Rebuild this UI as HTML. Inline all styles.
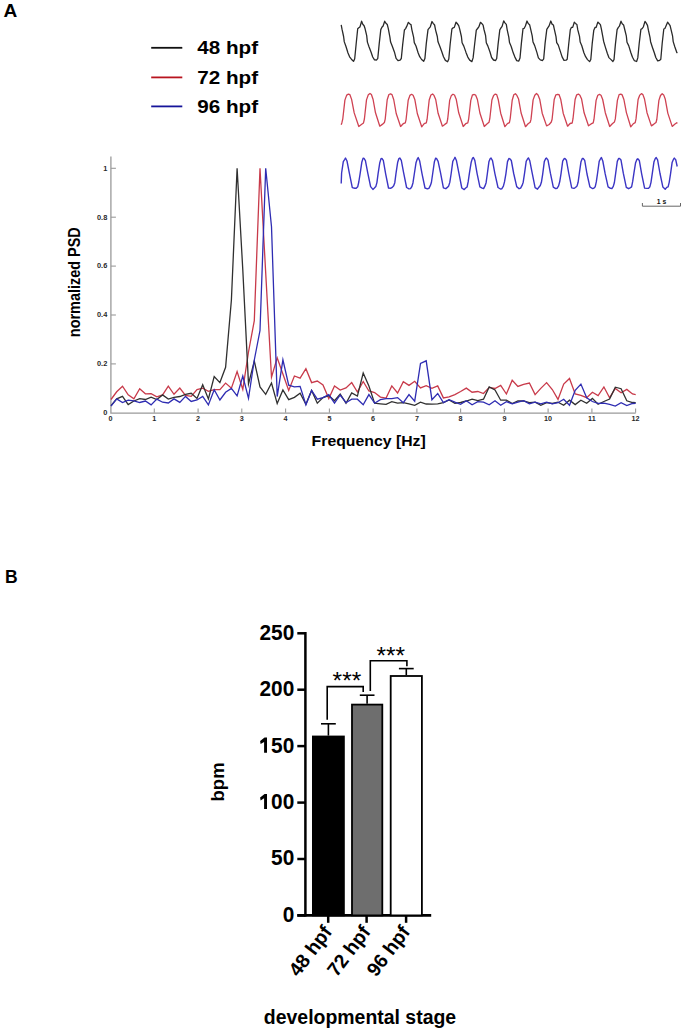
<!DOCTYPE html>
<html><head><meta charset="utf-8"><title>figure</title>
<style>
html,body{margin:0;padding:0;background:#fff;}
body{width:685px;height:1032px;overflow:hidden;font-family:"Liberation Sans", sans-serif;}
svg{display:block;}
</style></head>
<body>
<svg width="685" height="1032" viewBox="0 0 685 1032">
<rect width="685" height="1032" fill="#fff"/>
<text x="3.5" y="17.3" font-size="18" font-family="Liberation Sans, sans-serif" font-weight="bold" fill="#000" transform="translate(3.5 0) scale(1.06 1) translate(-3.5 0)">A</text>
<text x="5.0" y="583.2" font-size="17.5" font-family="Liberation Sans, sans-serif" font-weight="bold" fill="#000">B</text>
<line x1="151.2" y1="47.8" x2="182.3" y2="47.8" stroke="#111" stroke-width="1.8"/>
<line x1="151.2" y1="77.4" x2="182.3" y2="77.4" stroke="#b8141f" stroke-width="1.8"/>
<line x1="151.2" y1="106.4" x2="182.3" y2="106.4" stroke="#16149a" stroke-width="1.8"/>
<text x="197.2" y="53.7" font-size="18.3" font-family="Liberation Sans, sans-serif" font-weight="bold" fill="#000" transform="translate(197.2 0) scale(1.13 1) translate(-197.2 0)">48 hpf</text>
<text x="197.2" y="83.9" font-size="18.3" font-family="Liberation Sans, sans-serif" font-weight="bold" fill="#000" transform="translate(197.2 0) scale(1.13 1) translate(-197.2 0)">72 hpf</text>
<text x="197.2" y="113.4" font-size="18.3" font-family="Liberation Sans, sans-serif" font-weight="bold" fill="#000" transform="translate(197.2 0) scale(1.13 1) translate(-197.2 0)">96 hpf</text>
<polyline points="341.2,24.8 342.0,29.2 343.6,36.5 344.3,41.9 345.9,46.3 348.0,53.0 349.6,56.8 351.4,59.2 353.5,61.4 354.7,58.7 356.1,44.5 357.7,28.7 358.8,27.7 360.0,26.9 361.6,21.2 362.8,24.2 364.1,25.7 365.1,28.8 366.7,35.6 367.4,42.1 369.0,46.8 371.1,52.3 372.7,57.0 374.5,59.9 376.6,60.0 377.8,58.3 379.2,43.9 380.8,29.6 381.9,27.3 383.1,26.0 384.7,21.2 385.9,23.3 387.3,24.6 388.3,28.7 389.9,37.1 390.6,42.1 392.3,46.3 394.4,51.9 396.1,58.4 398.0,60.6 400.1,60.1 401.3,58.5 402.7,44.4 404.4,30.0 405.6,28.6 406.7,26.4 408.4,22.3 409.6,23.7 411.0,24.6 411.9,29.8 413.6,37.2 414.3,42.6 416.0,46.0 418.1,52.7 419.7,56.7 421.6,59.5 423.7,61.3 424.9,58.6 426.3,43.4 428.0,29.7 429.2,28.2 430.3,26.8 432.0,21.5 433.2,23.3 434.6,25.0 435.6,30.1 437.3,36.5 438.0,41.8 439.7,46.0 441.8,51.7 443.5,56.7 445.4,60.4 447.6,61.7 448.8,59.0 450.2,43.8 451.9,29.0 453.1,27.8 454.3,27.4 456.0,22.2 457.2,23.5 458.7,25.6 459.7,29.1 461.4,36.5 462.1,42.8 463.8,46.1 466.0,52.4 467.8,57.1 469.7,60.1 471.9,61.6 473.1,57.9 474.6,44.5 476.3,30.2 477.6,28.5 478.8,26.9 480.5,22.3 481.7,23.4 483.1,25.1 484.0,29.5 485.6,35.7 486.3,42.7 487.9,46.1 490.0,52.0 491.6,57.5 493.5,60.0 495.6,60.5 496.7,58.5 498.1,44.1 499.8,29.8 500.9,28.0 502.1,26.4 503.7,20.9 504.9,22.9 506.3,24.4 507.2,29.8 508.8,37.1 509.5,42.5 511.2,46.5 513.3,53.1 514.9,57.1 516.7,60.6 518.8,61.1 520.0,58.0 521.4,43.1 523.0,28.7 524.2,28.3 525.4,26.0 527.0,21.0 528.2,23.6 529.6,24.7 530.6,28.8 532.2,35.9 533.0,42.0 534.6,45.4 536.8,52.1 538.4,57.9 540.3,59.9 542.5,60.5 543.7,58.8 545.1,43.1 546.8,29.4 547.9,27.7 549.1,25.9 550.8,21.0 552.0,24.1 553.4,25.0 554.3,29.1 556.0,36.7 556.7,42.6 558.3,45.1 560.4,51.6 562.1,56.9 564.0,60.4 566.1,60.2 567.2,59.2 568.7,44.3 570.3,29.7 571.5,27.3 572.7,27.4 574.3,22.2 575.5,23.4 576.9,24.5 577.8,29.9 579.5,36.3 580.2,42.1 581.8,45.7 583.9,52.7 585.6,56.7 587.5,59.6 589.6,61.6 590.8,59.5 592.2,43.7 593.8,30.2 595.0,27.5 596.2,27.3 597.8,22.1 599.0,23.2 600.4,24.6 601.3,28.7 602.9,37.2 603.6,41.2 605.2,46.6 607.3,53.3 608.9,57.6 610.8,59.4 612.9,61.5 614.0,59.7 615.4,44.4 617.1,29.6 618.2,27.6 619.4,26.2 621.0,21.2 622.2,23.7 623.6,24.9 624.6,29.0 626.3,35.8 627.0,42.3 628.7,45.6 630.8,52.5 632.5,57.2 634.4,60.7 636.6,61.5 637.8,57.9 639.2,43.5 640.9,29.3 642.1,28.7 643.3,27.0 645.0,21.4 646.1,22.9 647.5,25.3 648.4,30.2 650.0,37.3 650.6,41.7 652.2,46.7 654.3,52.8 655.8,57.5 657.7,60.9 659.7,60.3 660.8,59.2 662.2,43.3 663.8,29.0 664.9,28.5 666.0,26.0 667.6,22.2 668.7,23.6 670.1,25.6 671.0,29.4 672.6,36.2 673.2,41.6 674.8,46.7 676.9,52.7 677.2,52.0" fill="none" stroke="#2a2a2a" stroke-width="1.3" stroke-linejoin="round"/>
<polyline points="341.2,124.8 341.9,122.7 342.8,118.8 344.9,100.1 346.7,95.1 348.4,94.1 349.9,94.7 351.6,99.4 354.2,112.9 358.8,126.5 361.4,124.5 363.5,122.9 364.4,119.0 366.5,99.9 368.3,94.8 370.0,93.5 371.4,94.5 373.1,99.5 375.5,112.8 379.8,126.2 382.3,124.4 384.4,122.5 385.2,119.1 387.2,99.7 388.9,94.5 390.5,93.8 392.0,94.6 393.7,99.5 396.2,113.5 400.6,126.5 403.2,123.7 405.3,122.9 406.1,119.3 408.2,100.2 409.9,95.4 411.6,94.3 413.1,95.3 414.8,99.4 417.3,113.5 421.7,126.8 424.2,123.7 426.3,122.8 427.1,119.2 429.2,100.0 430.9,95.0 432.6,94.0 434.0,95.4 435.7,99.5 438.1,113.3 442.4,126.2 444.8,124.4 446.9,122.9 447.7,119.0 449.7,100.1 451.4,95.4 453.0,94.2 454.5,95.0 456.2,99.2 458.7,112.8 463.2,126.5 465.7,123.7 467.8,122.9 468.7,118.8 470.8,100.4 472.5,94.8 474.2,94.5 475.7,95.2 477.4,99.5 479.9,113.0 484.3,126.5 486.9,124.1 489.0,122.3 489.8,118.7 491.9,100.0 493.6,95.4 495.3,94.1 496.7,94.6 498.3,99.8 500.7,113.2 504.9,126.7 507.4,123.7 509.4,122.7 510.2,118.6 512.2,100.2 513.8,94.8 515.4,93.7 516.9,95.4 518.6,99.1 521.1,113.0 525.5,126.7 528.1,123.7 530.2,122.2 531.0,119.4 533.1,99.9 534.8,95.2 536.5,93.5 538.0,94.9 539.7,99.2 542.2,113.2 546.6,125.9 549.2,124.5 551.3,122.0 552.1,119.2 554.2,99.5 555.9,94.8 557.6,94.3 559.1,94.7 560.7,99.2 563.2,113.2 567.6,126.2 570.1,123.5 572.2,123.0 573.0,118.7 575.1,99.5 576.7,94.8 578.4,94.1 579.9,95.2 581.6,99.1 584.1,112.8 588.5,125.8 591.1,123.9 593.2,122.8 594.0,119.2 596.1,100.4 597.8,95.3 599.5,94.4 601.0,95.2 602.7,99.5 605.3,112.7 609.7,126.5 612.3,123.8 614.4,122.1 615.3,118.9 617.4,100.4 619.1,94.6 620.8,94.1 622.2,94.9 623.9,99.5 626.4,112.6 630.7,126.8 633.2,123.8 635.2,122.6 636.0,118.9 638.1,99.5 639.8,95.1 641.4,93.6 642.9,94.6 644.5,99.0 647.0,112.7 651.4,125.9 653.9,124.1 656.0,122.5 656.8,119.5 658.9,100.4 660.5,95.5 662.2,93.7 663.7,94.9 665.3,99.3 667.8,113.1 672.2,126.4 674.7,124.3 676.8,122.7 677.2,123.5" fill="none" stroke="#cf4252" stroke-width="1.3" stroke-linejoin="round"/>
<polyline points="341.2,183.5 341.6,173.0 343.3,161.6 344.6,159.6 345.5,158.0 347.0,161.0 349.4,173.4 352.3,187.6 354.8,188.2 356.2,188.2 357.7,186.8 358.8,182.0 360.1,173.8 361.8,162.3 363.1,158.1 364.0,158.4 365.4,160.6 367.8,173.1 370.6,186.6 372.9,189.4 374.4,188.0 375.8,186.6 376.9,182.6 378.1,173.7 379.8,162.7 381.0,158.6 381.9,158.5 383.3,160.4 385.7,174.1 388.5,188.0 390.9,188.2 392.3,187.4 393.7,185.7 394.8,182.7 396.0,173.3 397.7,162.2 398.9,158.5 399.8,158.0 401.3,160.3 403.7,173.2 406.6,187.5 409.0,188.9 410.5,188.6 411.9,186.5 413.0,182.7 414.3,174.0 416.0,162.8 417.3,159.1 418.2,157.5 419.7,161.1 422.1,174.1 425.0,188.0 427.4,188.9 428.9,188.3 430.3,185.7 431.4,182.5 432.7,173.5 434.4,161.7 435.7,158.1 436.6,158.6 438.1,161.3 440.5,172.7 443.4,187.9 445.8,188.7 447.3,187.4 448.7,185.9 449.8,182.4 451.1,174.0 452.8,161.3 454.1,159.0 455.0,157.3 456.5,160.8 458.9,173.1 461.8,188.0 464.2,189.6 465.7,188.0 467.1,187.0 468.2,181.7 469.5,172.7 471.2,162.2 472.5,158.1 473.4,157.5 474.8,160.4 477.1,173.6 479.9,186.8 482.2,188.1 483.6,188.6 485.0,185.9 486.1,182.7 487.3,174.0 488.9,161.8 490.1,158.7 491.0,158.0 492.5,160.7 494.9,173.6 498.0,187.5 500.4,189.0 501.9,188.7 503.4,186.2 504.5,181.9 505.9,173.8 507.5,161.6 508.9,158.5 509.8,158.8 511.3,160.5 513.7,173.5 516.7,186.6 519.1,188.7 520.6,188.1 522.1,185.4 523.2,182.2 524.5,173.6 526.2,161.3 527.5,159.0 528.4,157.9 529.8,160.8 532.2,173.2 535.1,187.7 537.5,189.2 538.9,187.2 540.3,185.5 541.4,182.3 542.7,174.1 544.3,161.6 545.6,158.7 546.5,158.1 548.0,160.2 550.4,173.2 553.3,187.1 555.7,188.6 557.2,188.2 558.6,185.9 559.7,181.8 561.0,173.8 562.7,161.2 564.0,158.9 564.9,158.4 566.4,160.2 568.7,173.0 571.7,187.9 574.0,188.4 575.5,187.5 577.0,186.1 578.1,182.3 579.4,172.8 581.0,161.7 582.3,158.5 583.2,158.5 584.7,160.4 587.0,174.0 589.9,186.9 592.3,188.5 593.8,188.2 595.2,186.8 596.3,181.9 597.6,173.0 599.2,161.4 600.5,158.8 601.4,157.5 602.8,161.0 605.2,173.9 608.1,186.9 610.5,188.4 611.9,188.5 613.3,186.4 614.4,182.5 615.7,173.2 617.3,161.4 618.6,158.5 619.5,158.5 621.0,160.1 623.3,173.2 626.3,187.3 628.6,188.7 630.1,187.9 631.6,186.9 632.7,181.4 634.0,172.6 635.6,162.7 636.9,159.4 637.8,158.8 639.3,160.4 641.7,174.1 644.6,188.1 647.0,188.4 648.5,188.4 649.9,186.7 651.0,182.3 652.3,173.4 654.0,161.7 655.3,158.5 656.2,157.6 657.6,159.8 660.0,173.5 662.9,187.1 665.2,189.3 666.7,187.3 668.1,186.8 669.2,182.3 670.5,174.1 672.1,162.6 673.4,159.4 674.3,158.1 675.7,159.7 677.2,166.5" fill="none" stroke="#3b35c4" stroke-width="1.4" stroke-linejoin="round"/>
<path d="M642.4 203.0 V206.2 H680.5 V203.0" fill="none" stroke="#666" stroke-width="1.0"/>
<text x="661.5" y="203.9" font-size="6.8" font-family="Liberation Sans, sans-serif" font-weight="bold" fill="#111" text-anchor="middle">1 s</text>
<path d="M110.9 156.4 V413.1 H635.7" fill="none" stroke="#9a9a9a" stroke-width="1.3"/>
<text x="107.3" y="415.2" font-size="7.8" font-family="Liberation Sans, sans-serif" font-weight="bold" fill="#2a2a2a" text-anchor="end" transform="translate(107.3 0) scale(0.95 1) translate(-107.3 0)">0</text>
<line x1="110.9" y1="363.9" x2="115.9" y2="363.9" stroke="#9a9a9a" stroke-width="1.1"/>
<text x="107.3" y="366.3" font-size="7.8" font-family="Liberation Sans, sans-serif" font-weight="bold" fill="#2a2a2a" text-anchor="end" transform="translate(107.3 0) scale(0.95 1) translate(-107.3 0)">0.2</text>
<line x1="110.9" y1="315.0" x2="115.9" y2="315.0" stroke="#9a9a9a" stroke-width="1.1"/>
<text x="107.3" y="317.4" font-size="7.8" font-family="Liberation Sans, sans-serif" font-weight="bold" fill="#2a2a2a" text-anchor="end" transform="translate(107.3 0) scale(0.95 1) translate(-107.3 0)">0.4</text>
<line x1="110.9" y1="266.1" x2="115.9" y2="266.1" stroke="#9a9a9a" stroke-width="1.1"/>
<text x="107.3" y="268.5" font-size="7.8" font-family="Liberation Sans, sans-serif" font-weight="bold" fill="#2a2a2a" text-anchor="end" transform="translate(107.3 0) scale(0.95 1) translate(-107.3 0)">0.6</text>
<line x1="110.9" y1="217.2" x2="115.9" y2="217.2" stroke="#9a9a9a" stroke-width="1.1"/>
<text x="107.3" y="219.6" font-size="7.8" font-family="Liberation Sans, sans-serif" font-weight="bold" fill="#2a2a2a" text-anchor="end" transform="translate(107.3 0) scale(0.95 1) translate(-107.3 0)">0.8</text>
<line x1="110.9" y1="168.3" x2="115.9" y2="168.3" stroke="#9a9a9a" stroke-width="1.1"/>
<text x="107.3" y="170.7" font-size="7.8" font-family="Liberation Sans, sans-serif" font-weight="bold" fill="#2a2a2a" text-anchor="end" transform="translate(107.3 0) scale(0.95 1) translate(-107.3 0)">1</text>
<text x="110.6" y="420.8" font-size="8" font-family="Liberation Sans, sans-serif" font-weight="bold" fill="#2a2a2a" text-anchor="middle" transform="translate(110.6 0) scale(0.9 1) translate(-110.6 0)">0</text>
<line x1="154.3" y1="408.4" x2="154.3" y2="412.8" stroke="#9a9a9a" stroke-width="1.1"/>
<text x="154.3" y="420.8" font-size="8" font-family="Liberation Sans, sans-serif" font-weight="bold" fill="#2a2a2a" text-anchor="middle" transform="translate(154.3 0) scale(0.9 1) translate(-154.3 0)">1</text>
<line x1="198.1" y1="408.4" x2="198.1" y2="412.8" stroke="#9a9a9a" stroke-width="1.1"/>
<text x="198.1" y="420.8" font-size="8" font-family="Liberation Sans, sans-serif" font-weight="bold" fill="#2a2a2a" text-anchor="middle" transform="translate(198.1 0) scale(0.9 1) translate(-198.1 0)">2</text>
<line x1="241.8" y1="408.4" x2="241.8" y2="412.8" stroke="#9a9a9a" stroke-width="1.1"/>
<text x="241.8" y="420.8" font-size="8" font-family="Liberation Sans, sans-serif" font-weight="bold" fill="#2a2a2a" text-anchor="middle" transform="translate(241.8 0) scale(0.9 1) translate(-241.8 0)">3</text>
<line x1="285.6" y1="408.4" x2="285.6" y2="412.8" stroke="#9a9a9a" stroke-width="1.1"/>
<text x="285.6" y="420.8" font-size="8" font-family="Liberation Sans, sans-serif" font-weight="bold" fill="#2a2a2a" text-anchor="middle" transform="translate(285.6 0) scale(0.9 1) translate(-285.6 0)">4</text>
<line x1="329.4" y1="408.4" x2="329.4" y2="412.8" stroke="#9a9a9a" stroke-width="1.1"/>
<text x="329.4" y="420.8" font-size="8" font-family="Liberation Sans, sans-serif" font-weight="bold" fill="#2a2a2a" text-anchor="middle" transform="translate(329.4 0) scale(0.9 1) translate(-329.4 0)">5</text>
<line x1="373.1" y1="408.4" x2="373.1" y2="412.8" stroke="#9a9a9a" stroke-width="1.1"/>
<text x="373.1" y="420.8" font-size="8" font-family="Liberation Sans, sans-serif" font-weight="bold" fill="#2a2a2a" text-anchor="middle" transform="translate(373.1 0) scale(0.9 1) translate(-373.1 0)">6</text>
<line x1="416.9" y1="408.4" x2="416.9" y2="412.8" stroke="#9a9a9a" stroke-width="1.1"/>
<text x="416.9" y="420.8" font-size="8" font-family="Liberation Sans, sans-serif" font-weight="bold" fill="#2a2a2a" text-anchor="middle" transform="translate(416.9 0) scale(0.9 1) translate(-416.9 0)">7</text>
<line x1="460.6" y1="408.4" x2="460.6" y2="412.8" stroke="#9a9a9a" stroke-width="1.1"/>
<text x="460.6" y="420.8" font-size="8" font-family="Liberation Sans, sans-serif" font-weight="bold" fill="#2a2a2a" text-anchor="middle" transform="translate(460.6 0) scale(0.9 1) translate(-460.6 0)">8</text>
<line x1="504.4" y1="408.4" x2="504.4" y2="412.8" stroke="#9a9a9a" stroke-width="1.1"/>
<text x="504.4" y="420.8" font-size="8" font-family="Liberation Sans, sans-serif" font-weight="bold" fill="#2a2a2a" text-anchor="middle" transform="translate(504.4 0) scale(0.9 1) translate(-504.4 0)">9</text>
<line x1="548.1" y1="408.4" x2="548.1" y2="412.8" stroke="#9a9a9a" stroke-width="1.1"/>
<text x="548.1" y="420.8" font-size="8" font-family="Liberation Sans, sans-serif" font-weight="bold" fill="#2a2a2a" text-anchor="middle" transform="translate(548.1 0) scale(0.9 1) translate(-548.1 0)">10</text>
<line x1="591.9" y1="408.4" x2="591.9" y2="412.8" stroke="#9a9a9a" stroke-width="1.1"/>
<text x="591.9" y="420.8" font-size="8" font-family="Liberation Sans, sans-serif" font-weight="bold" fill="#2a2a2a" text-anchor="middle" transform="translate(591.9 0) scale(0.9 1) translate(-591.9 0)">11</text>
<line x1="635.6" y1="408.4" x2="635.6" y2="412.8" stroke="#9a9a9a" stroke-width="1.1"/>
<text x="635.6" y="420.8" font-size="8" font-family="Liberation Sans, sans-serif" font-weight="bold" fill="#2a2a2a" text-anchor="middle" transform="translate(635.6 0) scale(0.9 1) translate(-635.6 0)">12</text>
<polyline points="111.0,399.5 116.7,391.8 122.5,386.2 128.2,394.9 133.9,398.9 139.7,388.7 145.4,393.8 151.1,393.6 156.8,396.9 162.6,394.9 168.3,386.2 174.0,394.3 179.8,388.0 185.5,395.4 191.2,396.4 197.0,389.5 202.7,388.2 208.4,391.3 214.2,389.7 219.9,389.7 225.6,383.1 231.4,388.2 237.1,371.6 242.8,389.4 248.5,352.0 254.3,320.6 260.0,168.2 265.7,273.0 271.5,377.3 277.2,357.9 282.9,374.0 288.7,390.4 294.4,376.0 300.1,378.2 305.9,368.7 311.6,382.6 317.3,381.0 323.0,384.9 328.8,398.6 334.5,385.9 340.2,390.0 346.0,387.9 351.7,382.6 357.4,392.0 363.2,381.5 368.9,391.0 374.6,392.5 380.4,397.1 386.1,398.1 391.8,385.9 397.6,393.0 403.3,381.6 409.0,385.4 414.7,381.3 420.5,387.9 426.2,385.6 431.9,388.4 437.7,385.9 443.4,397.9 449.1,396.9 454.9,394.6 460.6,391.5 466.3,388.1 472.1,392.2 477.8,391.5 483.5,393.5 489.2,387.4 495.0,388.5 500.7,385.4 506.4,394.0 512.2,380.3 517.9,386.4 523.6,384.3 529.4,383.0 535.1,394.6 540.8,388.4 546.6,382.6 552.3,389.5 558.0,399.4 563.7,384.1 569.5,378.5 575.2,394.0 580.9,395.3 586.7,397.7 592.4,392.2 598.1,395.6 603.9,386.9 609.6,397.7 615.3,388.4 621.1,392.8 626.8,389.4 632.5,394.0 635.7,394.6" fill="none" stroke="#c83a4a" stroke-width="1.3" stroke-linejoin="miter" stroke-miterlimit="10"/>
<polyline points="111.0,405.6 116.7,398.9 122.5,396.4 128.2,404.6 133.9,401.0 139.7,398.7 145.4,399.5 151.1,397.1 156.8,399.5 162.6,394.9 168.3,399.1 174.0,397.4 179.8,396.5 185.5,394.3 191.2,393.3 197.0,398.4 202.7,384.8 208.4,398.9 214.2,376.5 219.9,382.6 225.6,367.3 231.4,300.0 237.1,168.2 242.8,270.0 248.5,383.9 254.3,361.1 260.0,386.9 265.7,394.4 271.5,383.0 277.2,403.6 282.9,390.0 288.7,399.6 294.4,397.4 300.1,393.3 305.9,404.3 311.6,390.5 317.3,403.2 323.0,397.6 328.8,395.6 334.5,400.7 340.2,394.0 346.0,403.2 351.7,393.0 357.4,396.1 363.2,373.1 368.9,386.0 374.6,403.2 380.4,403.8 386.1,404.3 391.8,401.7 397.6,403.2 403.3,402.7 409.0,403.8 414.7,405.3 420.5,402.2 426.2,404.0 431.9,404.1 437.7,403.8 443.4,402.7 449.1,400.0 454.9,403.4 460.6,402.5 466.3,401.0 472.1,399.2 477.8,400.7 483.5,399.2 489.2,386.9 495.0,390.0 500.7,400.2 506.4,400.2 512.2,403.5 517.9,401.0 523.6,401.0 529.4,402.7 535.1,402.2 540.8,405.3 546.6,402.7 552.3,403.5 558.0,402.1 563.7,405.2 569.5,400.2 575.2,404.6 580.9,400.2 586.7,403.3 592.4,398.4 598.1,404.3 603.9,401.5 609.6,399.0 615.3,387.2 621.1,388.7 626.8,400.8 632.5,402.5 635.7,402.7" fill="none" stroke="#303030" stroke-width="1.3" stroke-linejoin="miter" stroke-miterlimit="10"/>
<polyline points="111.0,406.1 116.7,398.9 122.5,402.5 128.2,400.2 133.9,400.8 139.7,402.5 145.4,401.0 151.1,404.9 156.8,399.1 162.6,402.2 168.3,403.0 174.0,398.9 179.8,402.4 185.5,396.4 191.2,401.5 197.0,400.0 202.7,396.4 208.4,404.9 214.2,389.7 219.9,400.0 225.6,392.3 231.4,388.4 237.1,395.9 242.8,376.0 248.5,398.3 254.3,360.0 260.0,330.5 265.7,168.2 271.5,226.7 277.2,396.6 282.9,359.8 288.7,385.2 294.4,386.9 300.1,386.4 305.9,404.8 311.6,390.5 317.3,399.2 323.0,397.6 328.8,394.6 334.5,403.2 340.2,395.0 346.0,402.7 351.7,399.2 357.4,399.2 363.2,404.8 368.9,394.6 374.6,403.2 380.4,399.7 386.1,398.6 391.8,398.6 397.6,397.6 403.3,402.7 409.0,394.6 414.7,401.2 420.5,363.4 426.2,360.8 431.9,399.7 437.7,393.5 443.4,402.7 449.1,399.7 454.9,402.2 460.6,404.3 466.3,400.7 472.1,404.8 477.8,401.7 483.5,402.2 489.2,404.8 495.0,400.7 500.7,405.3 506.4,401.7 512.2,403.8 517.9,402.2 523.6,400.7 529.4,403.8 535.1,402.2 540.8,403.8 546.6,402.2 552.3,403.8 558.0,402.7 563.7,399.3 569.5,405.2 575.2,390.3 580.9,384.1 586.7,397.7 592.4,401.5 598.1,403.3 603.9,403.1 609.6,404.3 615.3,406.0 621.1,402.7 626.8,405.6 632.5,403.5 635.7,403.3" fill="none" stroke="#2e2cb2" stroke-width="1.3" stroke-linejoin="miter" stroke-miterlimit="10"/>
<text x="0" y="0" font-size="14.45" font-family="Liberation Sans, sans-serif" font-weight="bold" fill="#000" text-anchor="middle" transform="translate(80.0 282.2) rotate(-90) scale(1 1.09)">normalized PSD</text>
<text x="368.7" y="445.8" font-size="14.3" font-family="Liberation Sans, sans-serif" font-weight="bold" fill="#000" text-anchor="middle" transform="translate(368.7 0) scale(1.106 1) translate(-368.7 0)">Frequency [Hz]</text>
<line x1="305.4" y1="632.0" x2="305.4" y2="916.6" stroke="#000" stroke-width="2.5"/>
<line x1="297.3" y1="915.4" x2="305.4" y2="915.4" stroke="#000" stroke-width="2.5"/>
<text x="294.3" y="921.9" font-size="21.5" font-family="Liberation Sans, sans-serif" font-weight="bold" fill="#000" text-anchor="end" transform="translate(294.3 0) scale(0.97 1) translate(-294.3 0)">0</text>
<line x1="297.3" y1="859.0" x2="305.4" y2="859.0" stroke="#000" stroke-width="2.5"/>
<text x="294.3" y="865.5" font-size="21.5" font-family="Liberation Sans, sans-serif" font-weight="bold" fill="#000" text-anchor="end" transform="translate(294.3 0) scale(0.97 1) translate(-294.3 0)">50</text>
<line x1="297.3" y1="802.6" x2="305.4" y2="802.6" stroke="#000" stroke-width="2.5"/>
<polygon points="264.60,794.00 267.00,794.00 267.00,809.10 264.10,809.10 264.10,798.30 260.60,800.40 260.10,797.40" fill="#000"/>
<text x="294.3" y="809.1" font-size="21.5" font-family="Liberation Sans, sans-serif" font-weight="bold" fill="#000" text-anchor="end" transform="translate(294.3 0) scale(0.97 1) translate(-294.3 0)">00</text>
<line x1="297.3" y1="746.1" x2="305.4" y2="746.1" stroke="#000" stroke-width="2.5"/>
<polygon points="264.60,737.58 267.00,737.58 267.00,752.68 264.10,752.68 264.10,741.88 260.60,743.98 260.10,740.98" fill="#000"/>
<text x="294.3" y="752.6" font-size="21.5" font-family="Liberation Sans, sans-serif" font-weight="bold" fill="#000" text-anchor="end" transform="translate(294.3 0) scale(0.97 1) translate(-294.3 0)">50</text>
<line x1="297.3" y1="689.7" x2="305.4" y2="689.7" stroke="#000" stroke-width="2.5"/>
<text x="294.3" y="696.2" font-size="21.5" font-family="Liberation Sans, sans-serif" font-weight="bold" fill="#000" text-anchor="end" transform="translate(294.3 0) scale(0.97 1) translate(-294.3 0)">200</text>
<line x1="297.3" y1="633.3" x2="305.4" y2="633.3" stroke="#000" stroke-width="2.5"/>
<text x="294.3" y="639.8" font-size="21.5" font-family="Liberation Sans, sans-serif" font-weight="bold" fill="#000" text-anchor="end" transform="translate(294.3 0) scale(0.97 1) translate(-294.3 0)">250</text>
<line x1="297.3" y1="915.4" x2="431.2" y2="915.4" stroke="#000" stroke-width="2.6"/>
<line x1="328.2" y1="915.4" x2="328.2" y2="922.8" stroke="#000" stroke-width="2.5"/>
<line x1="366.6" y1="915.4" x2="366.6" y2="922.8" stroke="#000" stroke-width="2.5"/>
<line x1="406.1" y1="915.4" x2="406.1" y2="922.8" stroke="#000" stroke-width="2.5"/>
<rect x="312.9" y="736.5" width="31.0" height="178.9" fill="#000" stroke="#000" stroke-width="1.8"/>
<line x1="328.4" y1="735.6" x2="328.4" y2="723.8" stroke="#000" stroke-width="1.6"/>
<line x1="321.0" y1="723.8" x2="335.8" y2="723.8" stroke="#000" stroke-width="1.6"/>
<rect x="352.0" y="704.6" width="30.3" height="210.8" fill="#6e6e6e" stroke="#000" stroke-width="1.8"/>
<line x1="367.1" y1="703.7" x2="367.1" y2="695.2" stroke="#000" stroke-width="1.6"/>
<line x1="359.8" y1="695.2" x2="374.5" y2="695.2" stroke="#000" stroke-width="1.6"/>
<rect x="390.7" y="676.0" width="31.2" height="239.4" fill="#fff" stroke="#000" stroke-width="1.8"/>
<line x1="406.3" y1="675.1" x2="406.3" y2="668.6" stroke="#000" stroke-width="1.6"/>
<line x1="398.9" y1="668.6" x2="413.7" y2="668.6" stroke="#000" stroke-width="1.6"/>
<path d="M327.2 719.7 V686.6 H363.2 V692.1" fill="none" stroke="#000" stroke-width="1.6"/>
<path d="M370.3 691.1 V660.8 H406.9 V666.2" fill="none" stroke="#000" stroke-width="1.6"/>
<text x="346.9" y="689.2" font-size="24.5" font-family="Liberation Sans, sans-serif" fill="#000" text-anchor="middle">***</text>
<text x="390.8" y="663.8" font-size="24.5" font-family="Liberation Sans, sans-serif" fill="#000" text-anchor="middle">***</text>
<text x="0" y="0" font-size="19.5" font-family="Liberation Sans, sans-serif" font-weight="bold" fill="#000" text-anchor="end" transform="translate(332.9 932) rotate(-53)">48 hpf</text>
<text x="0" y="0" font-size="19.5" font-family="Liberation Sans, sans-serif" font-weight="bold" fill="#000" text-anchor="end" transform="translate(371.3 932) rotate(-53)">72 hpf</text>
<text x="0" y="0" font-size="19.5" font-family="Liberation Sans, sans-serif" font-weight="bold" fill="#000" text-anchor="end" transform="translate(410.8 932) rotate(-53)">96 hpf</text>
<text x="0" y="0" font-size="18.5" font-family="Liberation Sans, sans-serif" font-weight="bold" fill="#000" text-anchor="middle" transform="translate(223.6 781.9) rotate(-90)">bpm</text>
<text x="360" y="1024.2" font-size="19.45" font-family="Liberation Sans, sans-serif" font-weight="bold" fill="#000" text-anchor="middle">developmental stage</text>
</svg>
</body></html>
